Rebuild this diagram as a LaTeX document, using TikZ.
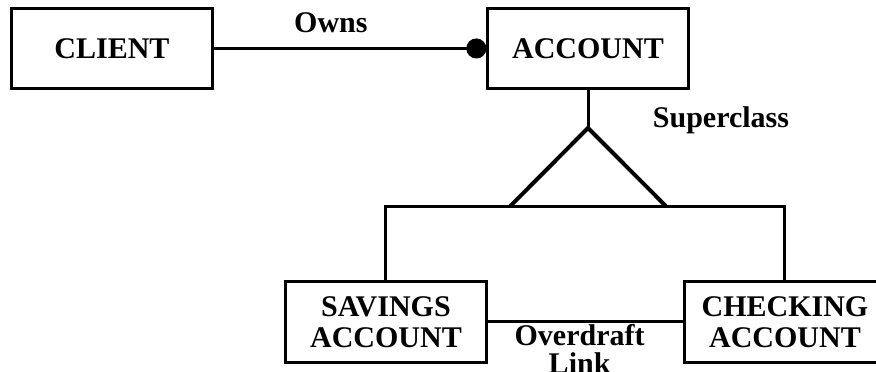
\documentclass[tikz,border=0pt]{standalone}
\usepackage{fontspec}
\setmainfont{Liberation Serif}
\usepackage{tikz}
\usetikzlibrary{arrows.meta}
\pgfdeclarelayer{edgelayer}
\pgfdeclarelayer{nodelayer}
\pgfsetlayers{edgelayer,nodelayer,main}
\tikzstyle{class}=[rectangle,draw=black,line width=1.5pt,minimum width=3.52cm,minimum height=1.42cm,inner sep=0pt,align=center,font=\bfseries\fontsize{15}{15.5}\selectfont]
\tikzstyle{tag}=[font=\bfseries\fontsize{15}{14}\selectfont,inner sep=2pt,align=center]
\tikzstyle{link}=[draw=black,line width=1.5pt]
\tikzstyle{owns}=[-{Circle[length=10pt]},draw=black,line width=1.5pt]
\tikzstyle{isa}=[draw=black,line width=2pt,line join=miter]

\begin{document}
\begin{tikzpicture}
	\useasboundingbox (0,0) rectangle (15.394,-6.537);
	\begin{pgfonlayer}{nodelayer}
		\node [style=class] (0) at (1.968, -0.852) {CLIENT};
		\node [style=class] (1) at (10.333, -0.852) {ACCOUNT};
		\node [style=class] (2) at (6.783, -5.658) {SAVINGS\\ACCOUNT};
		\node [style=class] (3) at (13.794, -5.658) {CHECKING\\ACCOUNT};
		\node [style=tag] (4) at (12.670, -2.109) {Superclass};
		\coordinate (5) at (10.333, -2.249);
		\coordinate (6) at (8.970, -3.620);
		\coordinate (7) at (11.700, -3.620);
		\coordinate (8) at (10.333, -3.637);
	\end{pgfonlayer}
	\begin{pgfonlayer}{edgelayer}
		\draw [style=owns] (0) to node[style=tag, above=5pt, pos=0.43]{Owns} (1);
		\draw [style=link] (1.south) to (5);
		\draw [style=isa] (6) -- (5) -- (7);
		\draw [style=link] (2.north) |- (8) -| (3.north);
		\draw [style=link] (2) to node[style=tag, below, inner sep=0.5pt, pos=0.47]{Overdraft\\Link} (3);
	\end{pgfonlayer}
\end{tikzpicture}
\end{document}
